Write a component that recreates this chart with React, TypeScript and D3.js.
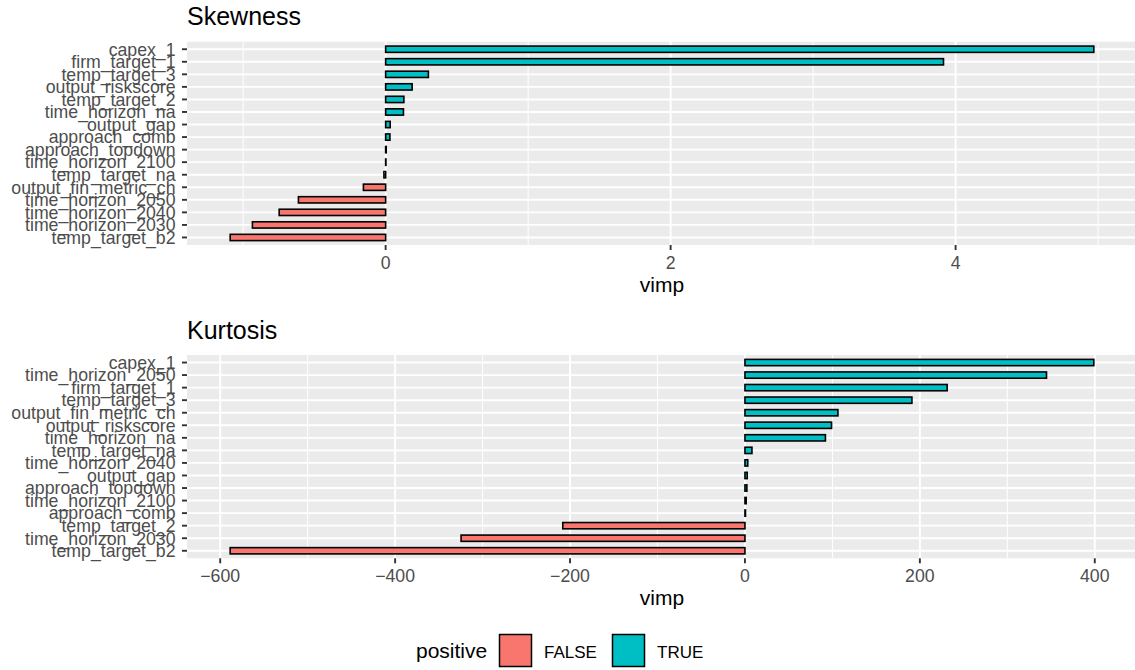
import React from "react";
import * as d3 from "d3";

const skewCategories = [
  "capex_1", "firm_target_1", "temp_target_3", "output_riskscore", "temp_target_2",
  "time_horizon_na", "output_gap", "approach_comb", "approach_topdown", "time_horizon_2100",
  "temp_target_na", "output_fin_metric_ch", "time_horizon_2050", "time_horizon_2040",
  "time_horizon_2030", "temp_target_b2",
];
const skewValues = [
  4.97, 3.915, 0.30, 0.186, 0.128, 0.125, 0.032, 0.03, 0.004, 0.002,
  -0.012, -0.156, -0.612, -0.747, -0.935, -1.091,
];

const kurtCategories = [
  "capex_1", "time_horizon_2050", "firm_target_1", "temp_target_3", "output_fin_metric_ch",
  "output_riskscore", "time_horizon_na", "temp_target_na", "time_horizon_2040", "output_gap",
  "approach_topdown", "time_horizon_2100", "approach_comb", "temp_target_2",
  "time_horizon_2030", "temp_target_b2",
];
const kurtValues = [
  398.9, 344.8, 231.2, 190.9, 106.3, 99, 92, 8, 3.2, 2.6, 2.2, 1.4, 0.6,
  -208.3, -324.6, -588.6,
];

const skewTicks = [0, 2, 4];
const skewMinor = [-1, 1, 3, 5];
const kurtTicks = [-600, -400, -200, 0, 200, 400];
const kurtMinor = [-500, -300, -100, 100, 300];

const legendLabels = ["FALSE", "TRUE"];
const legendColors = ["#F8766D", "#00BFC4"];

const FONT = "'Liberation Sans', Arial, Helvetica, sans-serif";
const LEFT = 187;
const RIGHT = 1137;
const TICK_FS = 17.7;

function fmt(v: number) {
  return v < 0 ? "\u2212" + Math.abs(v) : String(v);
}

function Panel(props: {
  title: string; cats: string[]; vals: number[]; ticks: number[]; minor: number[];
  top: number; bottom: number;
}) {
  const { title, cats, vals, ticks, minor, top, bottom } = props;
  const lo = Math.min(0, d3.min(vals) as number);
  const hi = Math.max(0, d3.max(vals) as number);
  const ex = (hi - lo) * 0.05;
  const x = d3.scaleLinear().domain([lo - ex, hi + ex]).range([LEFT, RIGHT]);
  const y = d3.scalePoint<string>().domain(cats).range([top, bottom]).padding(0.6);
  const step = y.step();
  const bh = step * 0.5;
  return (
    <g>
      <text x={LEFT} y={top - 16.3} fontSize={25} fill="#000" fontFamily={FONT}>{title}</text>
      <rect x={LEFT} y={top} width={RIGHT - LEFT} height={bottom - top} fill="#EBEBEB" />
      {minor.map((m) => (
        <line key={"mn" + m} x1={x(m)} x2={x(m)} y1={top} y2={bottom} stroke="#fff" strokeWidth={1} />
      ))}
      {ticks.map((t) => (
        <line key={"mj" + t} x1={x(t)} x2={x(t)} y1={top} y2={bottom} stroke="#fff" strokeWidth={1.9} />
      ))}
      {cats.map((c) => (
        <line key={"hg" + c} x1={LEFT} x2={RIGHT} y1={y(c)} y2={y(c)} stroke="#fff" strokeWidth={1.9} />
      ))}
      {cats.map((c, i) => {
        const v = vals[i];
        const x0 = x(Math.min(0, v));
        const x1 = x(Math.max(0, v));
        return (
          <rect key={"b" + c} x={x0} y={(y(c) as number) - bh / 2} width={Math.max(0.01, x1 - x0)} height={bh}
            fill={v >= 0 ? legendColors[1] : legendColors[0]} stroke="#000" strokeWidth={1.6} />
        );
      })}
      {cats.map((c) => (
        <g key={"yt" + c}>
          <line x1={LEFT - 5} x2={LEFT} y1={y(c)} y2={y(c)} stroke="#333" strokeWidth={1.9} />
          <text x={175.5} y={(y(c) as number) + 6.3} textAnchor="end" fontSize={TICK_FS} fill="#4D4D4D" fontFamily={FONT}>{c}</text>
        </g>
      ))}
      {ticks.map((t) => (
        <g key={"xt" + t}>
          <line x1={x(t)} x2={x(t)} y1={bottom} y2={bottom + 5} stroke="#333" strokeWidth={1.9} />
          <text x={x(t)} y={bottom + 23.5} textAnchor="middle" fontSize={TICK_FS} fill="#4D4D4D" fontFamily={FONT}>{fmt(t)}</text>
        </g>
      ))}
      <text x={(LEFT + RIGHT) / 2} y={bottom + 47} textAnchor="middle" fontSize={21} fill="#000" fontFamily={FONT}>vimp</text>
    </g>
  );
}

export default function App() {
  return (
    <svg width={1135} height={670} style={{ position: "absolute", left: 0, top: 0, background: "#fff" }}>
      <rect x={0} y={0} width={1135} height={670} fill="#fff" />
      <Panel title="Skewness" cats={skewCategories} vals={skewValues} ticks={skewTicks} minor={skewMinor} top={41.7} bottom={245} />
      <Panel title="Kurtosis" cats={kurtCategories} vals={kurtValues} ticks={kurtTicks} minor={kurtMinor} top={355} bottom={558.3} />
      <g>
        <text x={416} y={658} fontSize={21} fill="#000" fontFamily={FONT}>positive</text>
        {legendLabels.map((l, i) => (
          <g key={l}>
            <rect x={499.5 + i * 113} y={634.5} width={32} height={32} fill={legendColors[i]} stroke="#000" strokeWidth={1.5} />
            <text x={544 + i * 113} y={657.7} fontSize={17} fill="#000" fontFamily={FONT}>{l}</text>
          </g>
        ))}
      </g>
    </svg>
  );
}
